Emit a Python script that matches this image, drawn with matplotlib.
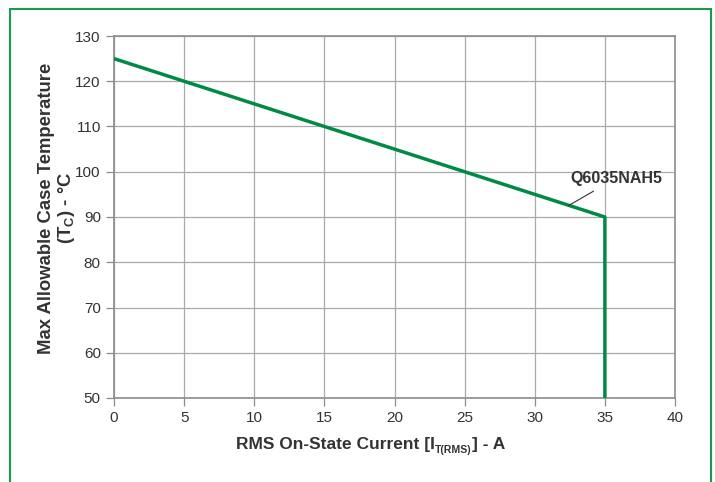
import matplotlib.pyplot as plt
from matplotlib.patches import Rectangle

plt.rcParams['font.family'] = ['Liberation Sans', 'DejaVu Sans']

# derating curve for Q6035NAH5
current = [0, 35, 35]
temp = [125, 90, 50]
x_ticks = [0, 5, 10, 15, 20, 25, 30, 35, 40]
y_ticks = [50, 60, 70, 80, 90, 100, 110, 120, 130]
part = "Q6035NAH5"

W, H = 715, 482
fig = plt.figure(figsize=(W / 100, H / 100), dpi=100)
fig.patches.append(Rectangle((10 / W, -0.05), 701 / W, 1.05 - 9 / H,
                             transform=fig.transFigure, fill=False,
                             edgecolor='#1a9a50', linewidth=1.5))

ax = fig.add_axes([114 / W, 1 - 398 / H, 561 / W, 362 / H])
ax.plot(current, temp, color='#008a45', linewidth=2.5, zorder=3)

ax.set_xlim(0, 40)
ax.set_ylim(50, 130)
ax.set_xticks(x_ticks)
ax.set_yticks(y_ticks)
ax.grid(True, color='#aaaaaa', linewidth=0.9)
ax.set_axisbelow(True)
for s in ax.spines.values():
    s.set_color('#8c8c8c')
    s.set_linewidth(1.2)
ax.tick_params(colors='#8c8c8c', labelcolor='#333333', labelsize=11,
               length=6, width=0.9)

ax.annotate(part, xy=(32.4, 92.5), xytext=(35.8, 98.6),
            ha='center', va='center', fontsize=11.5, fontweight='bold',
            color='#333333',
            arrowprops=dict(arrowstyle='-', color='#333333', linewidth=0.8,
                            shrinkA=4, shrinkB=0))

ax.set_ylabel("Max Allowable Case Temperature\n(T$_{\\mathregular{C}}$) - °C",
              fontsize=13.3, fontweight='bold', color='#333333',
              linespacing=1.05)
ax.yaxis.set_label_coords(-0.066, 0.525)

# x label built from pieces so the subscript can be small
lab = dict(fontweight='bold', color='#333333', va='baseline', ha='left')
base = 1 - 449 / H
r = fig.canvas.get_renderer()
t1 = fig.text(236 / W, base, "RMS On-State Current [I", fontsize=12.5, **lab)
x1 = t1.get_window_extent(r).x1
t2 = fig.text(x1 / W + 0.5 / W, base - 4 / H, "T(RMS)", fontsize=7.6, **lab)
x2 = t2.get_window_extent(r).x1
fig.text(x2 / W, base, "] - A", fontsize=12.5, **lab)

fig.savefig("out.png", dpi=100)
